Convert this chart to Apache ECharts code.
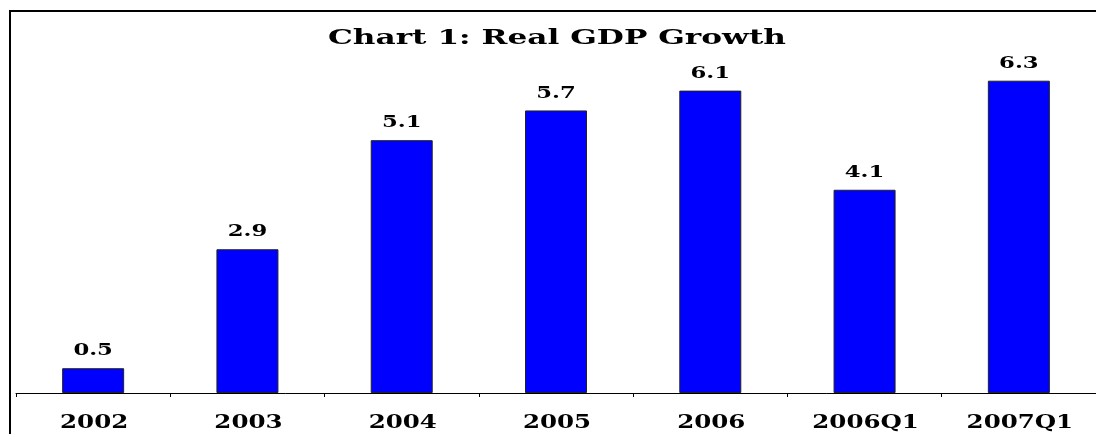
<!DOCTYPE html>
<html>
<head>
<meta charset="utf-8">
<script src="https://cdn.jsdelivr.net/npm/echarts@6/dist/echarts.min.js"></script>
<style>
  html, body { margin: 0; padding: 0; background: #fff; }
  #chart { width: 1096px; height: 434px; }
</style>
</head>
<body>
<div id="chart"></div>
<script>
// Real GDP growth by period (%)
const periods = ['2002', '2003', '2004', '2005', '2006', '2006Q1', '2007Q1'];
const growth = [0.5, 2.9, 5.1, 5.7, 6.1, 4.1, 6.3];
const chartTitle = 'Chart 1: Real GDP Growth';

const serif = '"DejaVu Serif", "Liberation Serif", serif';
const chart = echarts.init(document.getElementById('chart'), null, { renderer: 'canvas' });

chart.setOption({
  backgroundColor: '#ffffff',
  animation: false,
  graphic: [
    {
      // frame around the chart area
      type: 'rect',
      shape: { x: 10, y: 11, width: 1200, height: 600 },
      style: { fill: 'none', stroke: '#000', lineWidth: 2 },
      silent: true
    },
    {
      // wide, bold title
      type: 'text',
      x: 557,
      y: 29,
      scaleX: 1.56,
      style: {
        text: chartTitle,
        font: 'bold 20px ' + serif,
        fill: '#000',
        align: 'center',
        verticalAlign: 'top'
      },
      silent: true
    }
  ],
  grid: { left: 16, right: -7, top: 46, bottom: 41, containLabel: false },
  xAxis: {
    type: 'category',
    data: periods,
    axisLine: { show: true, lineStyle: { color: '#000', width: 1 } },
    axisTick: { show: true, inside: false, length: 4, lineStyle: { color: '#000' } },
    axisLabel: { show: false },
    splitLine: { show: false }
  },
  yAxis: {
    type: 'value',
    min: 0,
    max: 7,
    show: false
  },
  series: [
    {
      type: 'bar',
      data: growth,
      barWidth: 62,
      itemStyle: { color: '#0000ff', borderColor: '#222', borderWidth: 1 },
      label: { show: false }
    },
    {
      // value labels above each bar, stretched horizontally
      type: 'custom',
      data: growth.map((v, i) => [i, v]),
      z: 5,
      silent: true,
      clip: false,
      renderItem: function (params, api) {
        const pt = api.coord([api.value(0), api.value(1)]);
        return {
          type: 'text',
          x: pt[0],
          y: pt[1] - 9,
          scaleX: 1.42,
          style: {
            text: api.value(1).toFixed(1),
            font: 'bold 16px ' + serif,
            fill: '#000',
            align: 'center',
            verticalAlign: 'bottom'
          }
        };
      }
    },
    {
      // category names under the axis, stretched horizontally
      type: 'custom',
      data: periods.map((p, i) => [i, 0]),
      z: 5,
      silent: true,
      clip: false,
      renderItem: function (params, api) {
        const pt = api.coord([api.value(0), 0]);
        return {
          type: 'text',
          x: pt[0] + 1,
          y: pt[1] + 21,
          scaleX: 1.36,
          style: {
            text: periods[params.dataIndex],
            font: 'bold 18px ' + serif,
            fill: '#000',
            align: 'center',
            verticalAlign: 'top'
          }
        };
      }
    }
  ]
});
</script>
</body>
</html>
